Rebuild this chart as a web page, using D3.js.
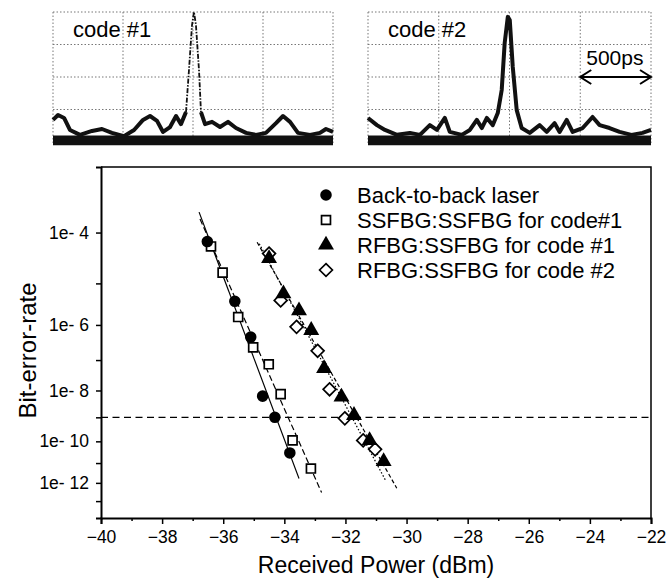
<!DOCTYPE html>
<html>
<head>
<meta charset="utf-8">
<script src="https://cdn.jsdelivr.net/npm/d3@7"></script>
<style>
  body { margin: 0; background: #fff; }
  svg { font-family: "Liberation Sans", Arial, sans-serif; }
</style>
</head>
<body>
<div id="wrapper"></div>
<script>
// BER curves: received power (dBm) and bit-error-rate
const b2bPower = [-36.52, -35.62, -35.10, -34.71, -34.31, -33.82]
const b2bBer = [6.9e-5, 3.9e-6, 4.7e-7, 6.3e-9, 1.0e-9, 3e-11]
const ssPower = [-36.40, -36.02, -35.51, -35.02, -34.51, -34.12, -33.73, -33.13]
const ssBer = [5.6e-5, 1.7e-5, 1.6e-6, 2.4e-7, 7.4e-8, 7.4e-9, 1.1e-10, 5.4e-12]
const r1Power = [-34.50, -34.03, -33.52, -33.12, -32.70, -32.13, -31.72, -31.21, -30.75]
const r1Ber = [3.3e-5, 5.9e-6, 2.3e-6, 7.2e-7, 5.5e-8, 5.9e-9, 1.2e-9, 1.1e-10, 1.2e-11]
const r2Power = [-34.50, -34.12, -33.60, -32.91, -32.52, -32.02, -31.42, -31.03]
const r2Ber = [4.1e-5, 4.1e-6, 8.9e-7, 1.9e-7, 1.1e-8, 9.1e-10, 1.1e-10, 4.4e-11]

// fitted lines, start and end of each
const fitPower = [[-36.79, -33.52], [-36.76, -32.78], [-34.89, -30.32], [-34.82, -30.67]]
const fitBer = [[2.2e-4, 1.7e-12], [1.7e-4, 3e-13], [6.7e-5, 5.2e-13], [6.3e-5, 1.2e-12]]
const berLimit = 1e-9

const legendLabels = ["Back-to-back laser", "SSFBG:SSFBG for code#1", "RFBG:SSFBG for code #1", "RFBG:SSFBG for code #2"]

const xTicks = [-40, -38, -36, -34, -32, -30, -28, -26, -24, -22]
const xMinorTicks = [-39, -37, -35, -33, -31, -29, -27, -25, -23]
const yTicks = [4, 6, 8, 10, 12]          // -log10(BER)
const yMinorTicks = [5, 7, 9, 11, 13]

// oscilloscope traces: time (ps), amplitude (divisions)
const scope1Time = [0, 36, 79, 121, 193, 279, 350, 421, 507, 579, 643, 693, 743, 786, 836, 879, 914, 950, 955,
  1057, 1086, 1136, 1193, 1250, 1307, 1379, 1450, 1521, 1593, 1643, 1693, 1750, 1836, 1907, 1950, 2000]
const scope1Amp = [0.68, 0.83, 0.74, 0.37, 0.22, 0.34, 0.40, 0.28, 0.18, 0.37, 0.68, 0.80, 0.65, 0.31, 0.46, 0.80, 0.55, 0.92, null,
  0.92, 0.55, 0.62, 0.46, 0.62, 0.43, 0.28, 0.22, 0.28, 0.58, 0.80, 0.62, 0.28, 0.22, 0.28, 0.40, 0.31]
const peak1Time = [950, 971, 993, 1007, 1021, 1043, 1057]
const peak1Amp = [0.92, 2.2, 3.6, 4.0, 3.6, 2.2, 0.92]

const scope2Time = [0, 63, 120, 205, 296, 367, 437, 487, 543, 578, 663, 720, 769, 804, 840, 882, 917, 945, 966, 988, 1002,
  1023, 1051, 1086, 1143, 1213, 1263, 1319, 1354, 1404, 1446, 1517, 1587, 1637, 1707, 1778, 1862, 1940, 2000]
const scope2Amp = [0.74, 0.52, 0.37, 0.22, 0.28, 0.22, 0.52, 0.37, 0.74, 0.31, 0.22, 0.37, 0.68, 0.43, 0.74, 0.52, 0.89, 1.6, 3.05, 3.85, 3.75,
  2.31, 0.98, 0.43, 0.28, 0.52, 0.31, 0.58, 0.31, 0.68, 0.31, 0.43, 0.77, 0.52, 0.43, 0.31, 0.22, 0.28, 0.37]
const floorBand = [-0.1, 0.2]

function drawChart() {
  const wrapper = d3.select("#wrapper")
    .append("svg")
    .attr("width", 668)
    .attr("height", 581)

  // ---------- main BER plot ----------
  const dimensions = {
    width: 668,
    height: 581,
    margin: { top: 167, right: 17, bottom: 63, left: 101 },
  }
  dimensions.boundedWidth = dimensions.width - dimensions.margin.left - dimensions.margin.right
  dimensions.boundedHeight = dimensions.height - dimensions.margin.top - dimensions.margin.bottom

  const bounds = wrapper.append("g")
    .attr("transform", `translate(${dimensions.margin.left},${dimensions.margin.top})`)

  const xScale = d3.scaleLinear()
    .domain([-40, -22])
    .range([0, dimensions.boundedWidth])
  // log(-log(BER)) axis
  const yScale = d3.scaleLog()
    .domain([3, 14])
    .range([0, dimensions.boundedHeight])
  const yBer = b => yScale(-Math.log10(b))

  // axes
  bounds.append("g")
    .call(d3.axisLeft(yScale).tickValues(yTicks).tickFormat(d => "1e- " + d).tickSize(5).tickPadding(7))
  bounds.append("g")
    .call(d3.axisLeft(yScale).tickValues(yMinorTicks).tickFormat("").tickSize(5))
    .call(g => g.select(".domain").remove())
  bounds.append("g")
    .attr("transform", `translate(0,${dimensions.boundedHeight})`)
    .call(d3.axisBottom(xScale).tickValues(xTicks).tickSize(6).tickPadding(7))
  bounds.append("g")
    .attr("transform", `translate(0,${dimensions.boundedHeight})`)
    .call(d3.axisBottom(xScale).tickValues(xMinorTicks).tickFormat("").tickSize(3))
    .call(g => g.select(".domain").remove())

  bounds.selectAll(".tick text")
    .attr("font-size", 17.5)
    .attr("font-family", "Liberation Sans, Arial, sans-serif")
    .attr("fill", "#000")
  bounds.selectAll(".tick line").attr("stroke", "#000").attr("stroke-width", 1.5)
  bounds.selectAll(".domain").attr("stroke", "#000").attr("stroke-width", 2)

  // top and right frame
  bounds.append("path")
    .attr("d", `M0,0H${dimensions.boundedWidth}V${dimensions.boundedHeight}`)
    .attr("fill", "none")
    .attr("stroke", "#000")
    .attr("stroke-width", 1.5)

  // error-free threshold
  bounds.append("line")
    .attr("x1", 0)
    .attr("x2", dimensions.boundedWidth)
    .attr("y1", yBer(berLimit))
    .attr("y2", yBer(berLimit))
    .attr("stroke", "#000")
    .attr("stroke-width", 1.3)
    .attr("stroke-dasharray", "7,4.5")

  // fit lines
  const fitDash = [null, "6,3", "4,2.5", "1.5,2"]
  const lineGenerator = d3.line()
    .x(d => xScale(d[0]))
    .y(d => yBer(d[1]))
  fitPower.forEach((p, i) => {
    bounds.append("path")
      .attr("d", lineGenerator(d3.zip(p, fitBer[i])))
      .attr("fill", "none")
      .attr("stroke", "#000")
      .attr("stroke-width", 1.2)
      .attr("stroke-dasharray", fitDash[i])
  })

  // markers
  const symbols = [
    { type: d3.symbolCircle, size: 105, fill: "#000", stroke: "none" },
    { type: d3.symbolSquare, size: 80, fill: "#fff", stroke: "#000" },
    { type: d3.symbolTriangle, size: 110, fill: "#000", stroke: "none" },
    { type: d3.symbolDiamond2, size: 105, fill: "#fff", stroke: "#000" },
  ]
  const series = [[b2bPower, b2bBer], [ssPower, ssBer], [r1Power, r1Ber], [r2Power, r2Ber]]
  const drawOrder = [1, 3, 0, 2]
  drawOrder.forEach(i => {
    const s = symbols[i]
    bounds.append("g")
      .selectAll("path")
      .data(d3.zip(series[i][0], series[i][1]))
      .join("path")
      .attr("d", d3.symbol(s.type, s.size))
      .attr("transform", d => `translate(${xScale(d[0])},${yBer(d[1])})`)
      .attr("fill", s.fill)
      .attr("stroke", s.stroke)
      .attr("stroke-width", 1.7)
  })

  // legend
  const legend = bounds.append("g")
    .attr("transform", "translate(225,28)")
  legendLabels.forEach((label, i) => {
    const s = symbols[i]
    const row = legend.append("g").attr("transform", `translate(0,${i * 25})`)
    row.append("path")
      .attr("d", d3.symbol(s.type, s.size))
      .attr("fill", s.fill)
      .attr("stroke", s.stroke)
      .attr("stroke-width", 1.7)
    row.append("text")
      .attr("x", 31)
      .attr("dy", "0.36em")
      .attr("font-size", 22)
      .text(label)
  })

  // axis titles
  wrapper.append("text")
    .attr("x", dimensions.margin.left + dimensions.boundedWidth / 2)
    .attr("y", 573)
    .attr("text-anchor", "middle")
    .attr("font-size", 23)
    .text("Received Power (dBm)")
  wrapper.append("text")
    .attr("transform", `translate(36,${dimensions.margin.top + dimensions.boundedHeight / 2 + 8}) rotate(-90)`)
    .attr("text-anchor", "middle")
    .attr("font-size", 24)
    .text("Bit-error-rate")

  // ---------- oscilloscope insets ----------
  function drawScope(left, width, times, amps, label, peakTimes, peakAmps, withMarker) {
    const top = 12
    const height = 130
    const g = wrapper.append("g").attr("transform", `translate(${left},${top})`)
    const tScale = d3.scaleLinear().domain([0, 2000]).range([0, width])
    const aScale = d3.scaleLinear().domain([0, 4]).range([height, 0])

    // dotted graticule
    g.append("g")
      .selectAll("line")
      .data(d3.range(0, 2001, 500))
      .join("line")
      .attr("x1", d => tScale(d)).attr("x2", d => tScale(d))
      .attr("y1", 0).attr("y2", height + 3)
    g.append("g")
      .selectAll("line")
      .data(d3.range(0, 5))
      .join("line")
      .attr("x1", 0).attr("x2", width)
      .attr("y1", d => aScale(d)).attr("y2", d => aScale(d))
    g.selectAll("line")
      .attr("stroke", "#777")
      .attr("stroke-width", 1)
      .attr("stroke-dasharray", "1.5,2")

    // noise floor
    g.append("path")
      .attr("d", d3.area()
        .x(d => tScale(d))
        .y0(aScale(floorBand[0]))
        .y1(aScale(floorBand[1]))([0, 2000]))
      .attr("fill", "#111")

    const trace = d3.line()
      .defined(d => d[1] !== null)
      .x(d => tScale(d[0]))
      .y(d => aScale(d[1]))
    g.append("path")
      .attr("d", trace(d3.zip(times, amps)))
      .attr("fill", "none")
      .attr("stroke", "#111")
      .attr("stroke-width", 4)
      .attr("stroke-linejoin", "round")
    if (peakTimes) {
      g.append("path")
        .attr("d", trace(d3.zip(peakTimes, peakAmps)))
        .attr("fill", "none")
        .attr("stroke", "#111")
        .attr("stroke-width", 1.8)
        .attr("stroke-dasharray", "5,1.5,1.5,1.5")
    }

    g.append("text")
      .attr("x", 20)
      .attr("y", 25)
      .attr("font-size", 22)
      .text(label)

    if (withMarker) {
      const y = aScale(2)
      const x1 = tScale(1500), x2 = tScale(2000)
      g.append("text")
        .attr("x", x1 + 6)
        .attr("y", y - 12)
        .attr("font-size", 21)
        .text("500ps")
      g.append("path")
        .attr("d", `M${x1},${y}H${x2}M${x1 + 11},${y - 7}L${x1},${y}L${x1 + 11},${y + 7}M${x2 - 11},${y - 7}L${x2},${y}L${x2 - 11},${y + 7}`)
        .attr("fill", "none")
        .attr("stroke", "#000")
        .attr("stroke-width", 2)
    }
  }

  drawScope(53, 280, scope1Time, scope1Amp, "code #1", peak1Time, peak1Amp, false)
  drawScope(368, 283, scope2Time, scope2Amp, "code #2", null, null, true)
}

drawChart()
</script>
</body>
</html>
